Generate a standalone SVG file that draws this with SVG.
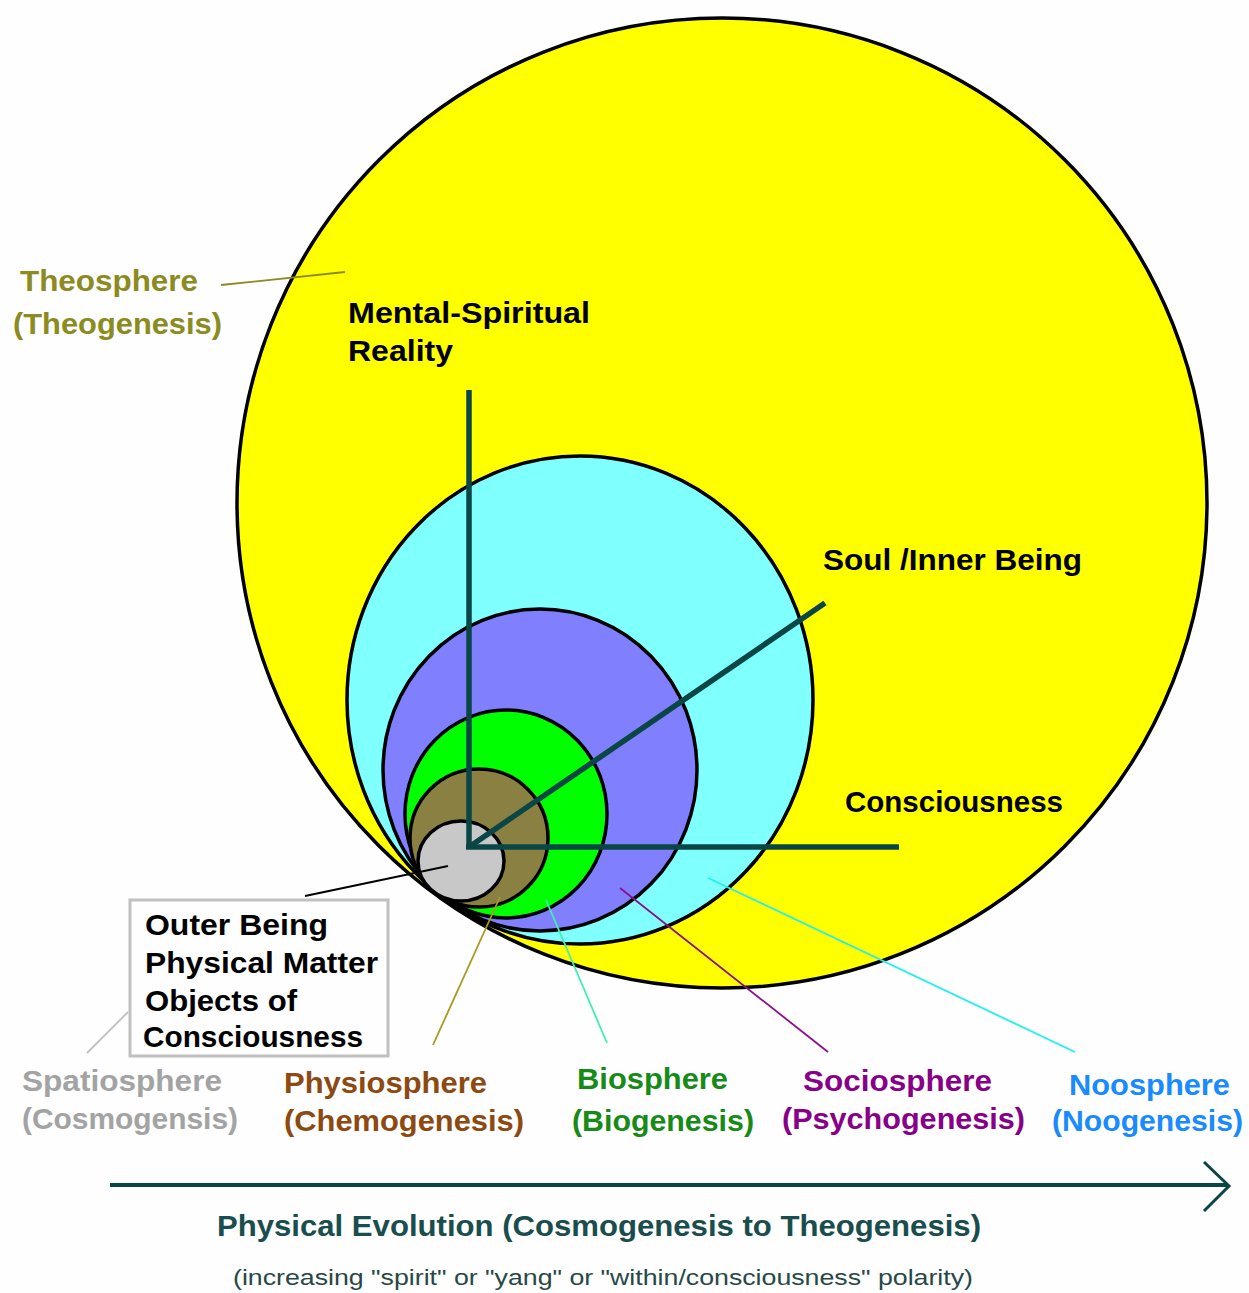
<svg xmlns="http://www.w3.org/2000/svg" width="1249" height="1293" viewBox="0 0 1249 1293">
<style>
.c{stroke:#000;stroke-width:3.5}
.t{font-family:"Liberation Sans",Arial,sans-serif;font-weight:bold;font-size:30px}
.k{fill:#000}
.ax{stroke:#0b4646;stroke-width:5.5;fill:none}
.ld{fill:none;stroke-width:1.8}
</style>
<rect width="1249" height="1293" fill="#fdfefd"/>
<g id="spheres">
<g id="theosphere"><circle class="c" cx="722" cy="503" r="485" fill="#ffff00"/></g>
<g id="noosphere"><ellipse class="c" cx="580" cy="700" rx="233" ry="244" fill="#80ffff"/></g>
<g id="sociosphere"><ellipse class="c" cx="540" cy="770" rx="157" ry="161" fill="#8080ff"/></g>
<g id="biosphere"><ellipse class="c" cx="506" cy="814" rx="101" ry="104" fill="#00ff00"/></g>
<g id="physiosphere"><circle class="c" cx="479" cy="838" r="69" fill="#8a8042"/></g>
<g id="spatiosphere"><ellipse class="c" cx="461" cy="861" rx="43" ry="40" fill="#c8c8c8"/></g>
</g>
<g id="axes">
<line class="ax" x1="469" y1="390" x2="469" y2="847"/>
<line class="ax" x1="466" y1="847" x2="899" y2="847"/>
<line class="ax" x1="469" y1="847" x2="825" y2="603"/>
</g>
<g id="connectors">
<line class="ld" stroke="#8b8b22" x1="221" y1="285" x2="345" y2="272"/>
<line class="ld" stroke="#000" x1="305" y1="896" x2="448" y2="866"/>
<line class="ld" stroke="#c0c0c0" x1="87" y1="1053" x2="128" y2="1012"/>
<line class="ld" stroke="#a89a20" x1="433" y1="1045" x2="500" y2="897"/>
<line class="ld" stroke="#40f0b0" x1="546" y1="900" x2="607" y2="1043"/>
<line class="ld" stroke="#8a108a" x1="620" y1="888" x2="828" y2="1052"/>
<line class="ld" stroke="#20f0f0" x1="708" y1="878" x2="1075" y2="1052"/>
</g>
<g id="label-theosphere" fill="#8b8b22">
<text class="t" x="20" y="291" textLength="178" lengthAdjust="spacingAndGlyphs">Theosphere</text>
<text class="t" x="13" y="334" textLength="209" lengthAdjust="spacingAndGlyphs">(Theogenesis)</text>
</g>
<g id="label-mental" class="k">
<text class="t" x="348" y="323" textLength="242" lengthAdjust="spacingAndGlyphs">Mental-Spiritual</text>
<text class="t" x="348" y="361" textLength="105" lengthAdjust="spacingAndGlyphs">Reality</text>
</g>
<g id="label-soul" class="k">
<text class="t" x="823" y="570" textLength="259" lengthAdjust="spacingAndGlyphs">Soul /Inner Being</text>
</g>
<g id="label-consciousness" class="k">
<text class="t" x="845" y="812" textLength="218" lengthAdjust="spacingAndGlyphs">Consciousness</text>
</g>
<g id="outer-being">
<rect x="130" y="900" width="258" height="156" fill="none" stroke="#c0c0c0" stroke-width="3"/>
<text class="t k" x="145" y="935" textLength="183" lengthAdjust="spacingAndGlyphs">Outer Being</text>
<text class="t k" x="145" y="973" textLength="233" lengthAdjust="spacingAndGlyphs">Physical Matter</text>
<text class="t k" x="145" y="1011" textLength="152" lengthAdjust="spacingAndGlyphs">Objects of</text>
<text class="t k" x="143" y="1047" textLength="220" lengthAdjust="spacingAndGlyphs">Consciousness</text>
</g>
<g id="label-spatiosphere" fill="#a3a3a3">
<text class="t" x="22" y="1091" textLength="200" lengthAdjust="spacingAndGlyphs">Spatiosphere</text>
<text class="t" x="22" y="1129" textLength="216" lengthAdjust="spacingAndGlyphs">(Cosmogensis)</text>
</g>
<g id="label-physiosphere" fill="#8c4a12">
<text class="t" x="284" y="1093" textLength="203" lengthAdjust="spacingAndGlyphs">Physiosphere</text>
<text class="t" x="284" y="1131" textLength="240" lengthAdjust="spacingAndGlyphs">(Chemogenesis)</text>
</g>
<g id="label-biosphere" fill="#178a17">
<text class="t" x="577" y="1089" textLength="151" lengthAdjust="spacingAndGlyphs">Biosphere</text>
<text class="t" x="572" y="1131" textLength="182" lengthAdjust="spacingAndGlyphs">(Biogenesis)</text>
</g>
<g id="label-sociosphere" fill="#880088">
<text class="t" x="803" y="1091" textLength="189" lengthAdjust="spacingAndGlyphs">Sociosphere</text>
<text class="t" x="782" y="1129" textLength="243" lengthAdjust="spacingAndGlyphs">(Psychogenesis)</text>
</g>
<g id="label-noosphere" fill="#1a8aff">
<text class="t" x="1069" y="1095" textLength="161" lengthAdjust="spacingAndGlyphs">Noosphere</text>
<text class="t" x="1052" y="1131" textLength="191" lengthAdjust="spacingAndGlyphs">(Noogenesis)</text>
</g>
<g id="evolution-arrow">
<line x1="110" y1="1185" x2="1228" y2="1185" stroke="#0b4646" stroke-width="4"/>
<polyline points="1204,1162 1229,1186 1204,1211" fill="none" stroke="#0b4646" stroke-width="3"/>
<text class="t" x="217" y="1236" fill="#1a4d4d" textLength="764" lengthAdjust="spacingAndGlyphs">Physical Evolution (Cosmogenesis to Theogenesis)</text>
<text x="233" y="1285" font-family="Liberation Sans, Arial, sans-serif" font-size="22" fill="#284848" textLength="740" lengthAdjust="spacingAndGlyphs">(increasing "spirit" or "yang" or "within/consciousness" polarity)</text>
</g>
</svg>
